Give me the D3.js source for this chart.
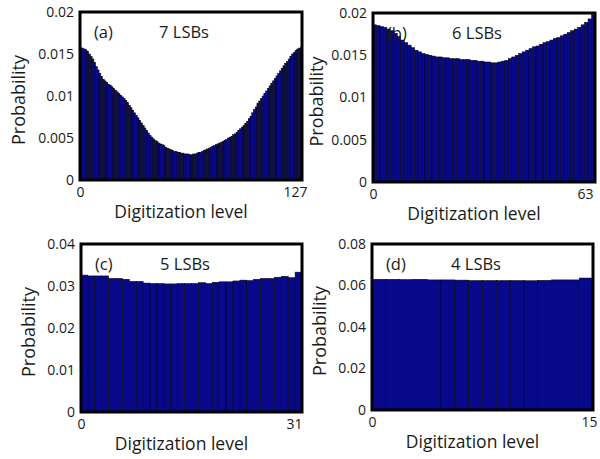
<!DOCTYPE html>
<html lang="en">
<head>
<meta charset="UTF-8">
<title>LSB histograms</title>
<script src="https://d3js.org/d3.v7.min.js"></script>
<style>
body { margin: 0; background: #fff; }
svg text { font-family: "Open Sans", "Noto Sans", sans-serif; fill: #1a1a1a; }
.tick text { font-size: 14px; }
.bar { fill: #08088a; stroke: #000; stroke-width: 0.5; }
.frame { fill: none; stroke: #000; stroke-width: 3; }
</style>
</head>
<body>
<svg id="chart" width="600" height="459"></svg>
<script>
// panel (a): 7 LSBs, 128 levels
var lsb7 = [
  0.0158, 0.0157, 0.0156, 0.0155, 0.0153, 0.0150, 0.0147, 0.0144, 0.0140, 0.0135,
  0.0131, 0.0127, 0.0123, 0.0120, 0.0118, 0.0116, 0.0114, 0.0113, 0.0111, 0.0109,
  0.0107, 0.0105, 0.0103, 0.0101, 0.0099, 0.0097, 0.0095, 0.0092, 0.0089, 0.0086,
  0.0083, 0.0080, 0.0077, 0.0074, 0.0071, 0.0068, 0.0065, 0.0062, 0.0059, 0.0056,
  0.0053, 0.0051, 0.0049, 0.0047, 0.0046, 0.0044, 0.0043, 0.0042, 0.0041, 0.0039,
  0.0038, 0.0037, 0.0036, 0.0035, 0.0034, 0.0034, 0.0033, 0.0033, 0.0032, 0.0032,
  0.0031, 0.0031, 0.0031, 0.0030, 0.0030, 0.0031, 0.0031, 0.0032, 0.0033, 0.0033,
  0.0034, 0.0035, 0.0036, 0.0037, 0.0038, 0.0039, 0.0040, 0.0041, 0.0042, 0.0043,
  0.0044, 0.0045, 0.0046, 0.0047, 0.0048, 0.0050, 0.0051, 0.0052, 0.0054, 0.0055,
  0.0057, 0.0059, 0.0061, 0.0063, 0.0065, 0.0067, 0.0070, 0.0073, 0.0076, 0.0080,
  0.0084, 0.0087, 0.0091, 0.0094, 0.0097, 0.0100, 0.0103, 0.0106, 0.0109, 0.0112,
  0.0115, 0.0118, 0.0121, 0.0124, 0.0127, 0.0130, 0.0133, 0.0136, 0.0139, 0.0141,
  0.0144, 0.0147, 0.0150, 0.0152, 0.0154, 0.0156, 0.0157, 0.0158
];
// panel (b): 6 LSBs, 64 levels
var lsb6 = [
  0.0186, 0.0185, 0.0184, 0.0183, 0.0181, 0.0179, 0.0176, 0.0172, 0.0168, 0.0165,
  0.0162, 0.0159, 0.0156, 0.0154, 0.0152, 0.0151, 0.0150, 0.0149, 0.0148, 0.0148,
  0.0147, 0.0147, 0.0146, 0.0146, 0.0146, 0.0145, 0.0145, 0.0145, 0.0144, 0.0144,
  0.0143, 0.0143, 0.0142, 0.0142, 0.0141, 0.0141, 0.0142, 0.0143, 0.0144, 0.0146,
  0.0148, 0.0150, 0.0152, 0.0154, 0.0156, 0.0158, 0.0160, 0.0161, 0.0163, 0.0165,
  0.0166, 0.0168, 0.0170, 0.0171, 0.0173, 0.0175, 0.0177, 0.0179, 0.0181, 0.0183,
  0.0186, 0.0189, 0.0193, 0.0198
];
// panel (c): 5 LSBs, 32 levels
var lsb5 = [
  0.0326, 0.0324, 0.0324, 0.0324, 0.0318, 0.0318, 0.0316, 0.0311, 0.0311, 0.0307,
  0.0306, 0.0306, 0.0305, 0.0305, 0.0306, 0.0306, 0.0306, 0.0308, 0.0306, 0.0309,
  0.0310, 0.0310, 0.0312, 0.0314, 0.0313, 0.0316, 0.0318, 0.0318, 0.0321, 0.0323,
  0.0320, 0.0333
];
// panel (d): 4 LSBs, 16 levels
var lsb4 = [
  0.0630, 0.0630, 0.0629, 0.0630, 0.0627, 0.0627, 0.0626, 0.0624, 0.0624, 0.0624,
  0.0624, 0.0623, 0.0625, 0.0627, 0.0627, 0.0636
];

var yTicksAB = [0, 0.005, 0.01, 0.015, 0.02];
var yTicksC = [0, 0.01, 0.02, 0.03, 0.04];
var yTicksD = [0, 0.02, 0.04, 0.06, 0.08];
var panelTags = ["(a)", "(b)", "(c)", "(d)"];
var panelTitles = ["7 LSBs", "6 LSBs", "5 LSBs", "4 LSBs"];

var panels = [
  { data: lsb7, ticks: yTicksAB, x0: 80, x1: 302, y0: 12, y1: 180, ylabX: 18, lastDx: 5 },
  { data: lsb6, ticks: yTicksAB, x0: 373, x1: 595, y0: 13, y1: 182, ylabX: 316, lastDx: -2 },
  { data: lsb5, ticks: yTicksC, x0: 81, x1: 302, y0: 244, y1: 412, ylabX: 28, lastDx: 0 },
  { data: lsb4, ticks: yTicksD, x0: 372, x1: 593, y0: 244, y1: 410, ylabX: 319, lastDx: 4 }
];

var svg = d3.select("#chart");

panels.forEach(function(p, k) {
  var n = p.data.length;
  var g = svg.append("g");

  var x = d3.scaleBand().domain(d3.range(n)).range([p.x0, p.x1]).padding(0);
  var xl = d3.scaleLinear().domain([0, n - 1]).range([p.x0, p.x1]);
  var y = d3.scaleLinear().domain([0, d3.max(p.ticks)]).range([p.y1, p.y0]);

  g.selectAll("rect.bar")
    .data(p.data)
    .enter().append("rect")
    .attr("class", "bar")
    .attr("x", function(d, i) { return x(i); })
    .attr("y", function(d) { return y(d); })
    .attr("width", x.bandwidth())
    .attr("height", function(d) { return y(0) - y(d); });

  g.append("rect")
    .attr("class", "frame")
    .attr("x", p.x0).attr("y", p.y0)
    .attr("width", p.x1 - p.x0).attr("height", p.y1 - p.y0);

  var ya = g.append("g")
    .attr("transform", "translate(" + (p.x0 - 2) + ",0)")
    .call(d3.axisLeft(y).tickValues(p.ticks).tickSize(0).tickPadding(4)
      .tickFormat(function(d) { return String(+d.toFixed(3)); }));
  ya.select(".domain").remove();

  var xa = g.append("g")
    .attr("transform", "translate(0," + (p.y1 + 4) + ")")
    .call(d3.axisBottom(xl).tickValues([0, n - 1]).tickSize(0).tickPadding(3)
      .tickFormat(d3.format("d")));
  xa.select(".domain").remove();
  xa.selectAll(".tick text")
    .attr("text-anchor", function(d) { return d === 0 ? "middle" : "end"; })
    .attr("dx", function(d) { return d === 0 ? 0 : p.lastDx; });

  g.append("text")
    .attr("x", (p.x0 + p.x1) / 2 - 10)
    .attr("y", p.y1 + 38)
    .attr("text-anchor", "middle")
    .style("font-size", "17.5px")
    .text("Digitization level");

  g.append("text")
    .attr("transform", "translate(" + (p.ylabX + 7) + "," + ((p.y0 + p.y1) / 2 + 4) + ") rotate(-90)")
    .attr("text-anchor", "middle")
    .style("font-size", "18px")
    .text("Probability");

  g.append("text")
    .attr("x", p.x0 + 14)
    .attr("y", p.y0 + 26)
    .style("font-size", "16.5px")
    .text(panelTags[k]);

  g.append("text")
    .attr("x", p.x0 + 104)
    .attr("y", p.y0 + 26)
    .attr("text-anchor", "middle")
    .style("font-size", "16.5px")
    .text(panelTitles[k]);
});
</script>
</body>
</html>
